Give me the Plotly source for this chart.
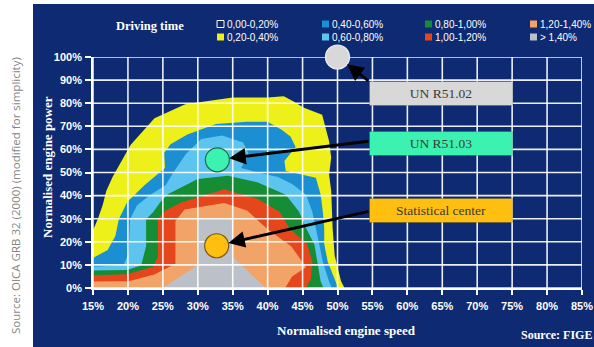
import plotly.graph_objects as go

# ---- canvas and plot-area geometry (pixels) ----
W, H = 594, 347
ML, MR, MT, MB = 93, 12, 57, 59

# ---- axes ----
X_TICKS = [15, 20, 25, 30, 35, 40, 45, 50, 55, 60, 65, 70, 75, 80, 85]
Y_TICKS = [0, 10, 20, 30, 40, 50, 60, 70, 80, 90, 100]
X_LABELS = [f"{v}%" for v in X_TICKS]
Y_LABELS = [f"{v}%" for v in Y_TICKS]

# ---- driving-time classes ----
CLASS_LABELS = ["0,00-0,20%", "0,20-0,40%", "0,40-0,60%", "0,60-0,80%",
                "0,80-1,00%", "1,00-1,20%", "1,20-1,40%", "> 1,40%"]
CLASS_COLORS = ["#0e2a72", "#eef01a", "#1b8fd2", "#5cc4ee",
                "#168c34", "#e6461c", "#f2a468", "#bcc1c9"]

# Outline of each class region (speed %, power %): area at or above the class
BAND_020 = [(15, 0), (51, 0), (50.5, 3), (49.6, 14), (49.3, 26), (49.1, 42),
            (48.8, 49), (49.1, 56.5), (48.8, 63.5), (48.3, 69.5), (47.8, 75),
            (45.2, 78), (43.6, 81), (42.3, 83), (40, 82.5), (35, 82.5),
            (28.2, 79.5), (23.8, 73.5), (20.4, 62), (17.8, 48), (16.9, 42),
            (16.4, 36), (15.7, 30), (15, 25)]
BAND_040 = [(15, 0), (50.1, 0), (49.7, 3), (48.6, 11.4), (48.1, 19), (48.1, 26),
            (47.9, 33), (47.6, 40.4), (46.9, 47.7), (42.6, 50.6), (42.4, 55),
            (43.2, 58), (44, 61), (43.3, 65.5), (42, 68.5), (40, 72), (37, 72),
            (32.6, 71), (28.5, 66.5), (26.1, 62.2), (25.2, 58.5), (25.3, 52),
            (22.4, 44.6), (19.9, 37.2), (18.7, 29.8), (18.2, 22.5), (17.1, 16.5),
            (15, 13)]
BAND_060 = [(15, 0), (49.2, 0), (48.8, 2.7), (47.9, 11.4), (47.4, 18.7),
            (46.9, 26), (46.4, 33), (45.5, 40.4), (43.5, 45), (41.5, 48),
            (38.6, 50), (36.2, 52), (37.3, 58), (36.5, 63), (33.5, 66),
            (30.5, 64.5), (28.3, 58), (26.5, 50), (25.4, 44.5), (23.1, 40.2),
            (21.3, 35.7), (20.3, 29.8), (20.1, 15), (19.4, 10), (15, 9.2)]
BAND_080 = [(15, 0), (48, 0), (47.6, 2.7), (47.1, 11.4), (46.7, 18.7),
            (45.5, 26), (44.5, 33), (42.6, 40.4), (38.6, 45.7), (34.3, 48.6),
            (30, 47.2), (25.7, 40.6), (24.6, 37), (23.6, 32.8), (22.6, 29.8),
            (22.6, 18), (21.9, 9.9), (19.9, 7.8), (15, 7.6)]
BAND_100 = [(15, 0), (45.5, 0), (46.2, 4), (46.4, 11.4), (45.7, 18.7),
            (43.1, 26), (41.7, 33), (38.6, 38.5), (33.8, 42.8), (27.6, 37),
            (25.4, 33.5), (24.3, 29.8), (24.3, 13.6), (23.6, 9.2), (19.9, 5.9),
            (15, 5.5)]
BAND_120 = [(15, 0), (42.5, 0), (43.5, 5), (45.5, 9), (43.4, 18), (40, 25.4),
            (37.1, 33.4), (33.8, 36.8), (28.1, 34), (26.8, 29), (26.8, 10.5),
            (23.8, 5.8), (20.1, 2.9), (15, 2.8)]
BAND_140 = [(25, 0), (39.7, 0), (35, 13.5), (35, 30), (30, 30), (30, 10)]
BANDS = [BAND_020, BAND_040, BAND_060, BAND_080, BAND_100, BAND_120, BAND_140]

# ---- reference operating points ----
POINT_NAMES = ["UN R51.02", "UN R51.03", "Statistical center"]
POINT_SPEED = [50, 32.8, 32.7]
POINT_POWER = [100, 55.5, 18.3]
POINT_FILL = ["#d8d8d8", "#3cf2b0", "#ffbf10"]
POINT_EDGE = ["#eeeeee", "#1d6b4a", "#7a5a10"]


def paper_x(px):
    return (px - ML) / (W - ML - MR)


def paper_y(py):
    return (H - MB - py) / (H - MT - MB)


def data_to_px(s, p):
    px = ML + (s - X_TICKS[0]) / (X_TICKS[-1] - X_TICKS[0]) * (W - ML - MR)
    py = MT + (Y_TICKS[-1] - p) / (Y_TICKS[-1] - Y_TICKS[0]) * (H - MT - MB)
    return px, py


NAVY = CLASS_COLORS[0]
SERIF = "Liberation Serif, DejaVu Serif, serif"
SANS = "Liberation Sans, Arial, sans-serif"

fig = go.Figure()

# filled class regions, lowest class first
for band, color in zip(BANDS, CLASS_COLORS[1:]):
    fig.add_trace(go.Scatter(
        x=[pt[0] for pt in band], y=[pt[1] for pt in band],
        mode="lines", fill="toself", fillcolor=color,
        line=dict(width=0, color=color), hoverinfo="skip", showlegend=False))

# white grid over the regions
gx, gy = [], []
for v in X_TICKS:
    gx += [v, v, None]
    gy += [Y_TICKS[0], Y_TICKS[-1], None]
for v in Y_TICKS:
    gx += [X_TICKS[0], X_TICKS[-1], None]
    gy += [v, v, None]
fig.add_trace(go.Scatter(x=gx, y=gy, mode="lines",
                         line=dict(color="rgba(255,255,255,0.92)", width=1.6),
                         hoverinfo="skip", showlegend=False, cliponaxis=False))

# operating points
fig.add_trace(go.Scatter(
    x=POINT_SPEED, y=POINT_POWER, mode="markers",
    marker=dict(size=24, color=POINT_FILL, line=dict(color=POINT_EDGE, width=1.2)),
    hoverinfo="skip", showlegend=False, cliponaxis=False))

shapes = []
annotations = []

# white page strip left of and above the dark panel
shapes.append(dict(type="rect", xref="paper", yref="paper", layer="below",
                   x0=paper_x(0), x1=paper_x(33), y0=paper_y(H), y1=paper_y(0),
                   fillcolor="white", line=dict(width=0)))
shapes.append(dict(type="rect", xref="paper", yref="paper", layer="below",
                   x0=paper_x(0), x1=paper_x(W), y0=paper_y(4), y1=paper_y(0),
                   fillcolor="white", line=dict(width=0)))

# legend: title, swatches and labels
annotations.append(dict(xref="paper", yref="paper", x=paper_x(150), y=paper_y(26),
                        text="<b>Driving time</b>", showarrow=False,
                        font=dict(family=SERIF, size=12.5, color="white"),
                        xanchor="center", yanchor="middle"))
COL_X = [217, 322, 425, 530]
ROW_Y = [24, 37]
for i, (label, color) in enumerate(zip(CLASS_LABELS, CLASS_COLORS)):
    cx, cy = COL_X[i // 2], ROW_Y[i % 2]
    shapes.append(dict(type="rect", xref="paper", yref="paper",
                       x0=paper_x(cx), x1=paper_x(cx + 7),
                       y0=paper_y(cy + 3.5), y1=paper_y(cy - 3.5),
                       fillcolor=color,
                       line=dict(color="white", width=1) if i == 0 else dict(width=0)))
    annotations.append(dict(xref="paper", yref="paper", x=paper_x(cx + 8), y=paper_y(cy),
                            text=label, showarrow=False, xanchor="left", yanchor="middle",
                            font=dict(family=SANS, size=10, color="white")))

# label boxes with arrows to their points
BOX_CY = [93.5, 143.5, 210.5]
TAIL_PY = [82, 141, 211]
for name, s, p, fill, cy, ty in zip(POINT_NAMES, POINT_SPEED, POINT_POWER,
                                    POINT_FILL, BOX_CY, TAIL_PY):
    annotations.append(dict(xref="paper", yref="paper", x=paper_x(441), y=paper_y(cy),
                            text=name, showarrow=False, xanchor="center", yanchor="middle",
                            width=142, height=23, borderpad=0, borderwidth=1,
                            bgcolor=fill, bordercolor="rgba(0,0,0,0.15)",
                            font=dict(family=SERIF, size=13.5, color="#3a3a3a")))
    hx, hy = data_to_px(s, p)
    annotations.append(dict(xref="x", yref="y", x=s, y=p, text="",
                            showarrow=True, axref="pixel", ayref="pixel",
                            ax=370 - hx, ay=ty - hy, arrowhead=2, arrowsize=1.1,
                            arrowwidth=3, arrowcolor="black", standoff=12))

# axis titles and sources
annotations.append(dict(xref="paper", yref="paper", x=paper_x(47), y=paper_y(167),
                        text="<b>Normalised engine power</b>", textangle=-90,
                        showarrow=False, xanchor="center", yanchor="middle",
                        font=dict(family=SERIF, size=13, color="white")))
annotations.append(dict(xref="paper", yref="paper", x=paper_x(346), y=paper_y(330),
                        text="<b>Normalised engine speed</b>",
                        showarrow=False, xanchor="center", yanchor="middle",
                        font=dict(family=SERIF, size=13, color="white")))
annotations.append(dict(xref="paper", yref="paper", x=paper_x(556), y=paper_y(335),
                        text="<b>Source: FIGE</b>",
                        showarrow=False, xanchor="center", yanchor="middle",
                        font=dict(family=SERIF, size=12, color="white")))
annotations.append(dict(xref="paper", yref="paper", x=paper_x(15), y=paper_y(196),
                        text="Source: OICA GRB 32 (2000) (modified for simplicity)",
                        textangle=-90, showarrow=False, xanchor="center", yanchor="middle",
                        font=dict(family="Open Sans, Noto Sans, sans-serif", size=11.5,
                                  color="#858585")))

axis_font = dict(family=SANS, size=11, color="white", weight="bold")
fig.update_layout(
    width=W, height=H,
    margin=dict(l=ML, r=MR, t=MT, b=MB, pad=0, autoexpand=False),
    paper_bgcolor=NAVY, plot_bgcolor=NAVY,
    showlegend=False, hovermode=False,
    shapes=shapes, annotations=annotations,
    xaxis=dict(range=[X_TICKS[0], X_TICKS[-1]], tickmode="array",
               tickvals=X_TICKS, ticktext=X_LABELS, ticklabeloverflow="allow",
               automargin=False,
               showgrid=False, zeroline=False, showline=True, linecolor="white",
               linewidth=1.6, ticks="outside", ticklen=5, tickwidth=1.5,
               tickcolor="white", tickfont=axis_font, ticklabelstandoff=2,
               fixedrange=True),
    yaxis=dict(range=[Y_TICKS[0], Y_TICKS[-1]], tickmode="array",
               tickvals=Y_TICKS, ticktext=Y_LABELS, ticklabeloverflow="allow",
               automargin=False,
               showgrid=False, zeroline=False, showline=True, linecolor="white",
               linewidth=1.6, ticks="outside", ticklen=6, tickwidth=1.5,
               tickcolor="white", tickfont=axis_font, ticklabelstandoff=1,
               fixedrange=True),
)

fig.write_html("out.html")
